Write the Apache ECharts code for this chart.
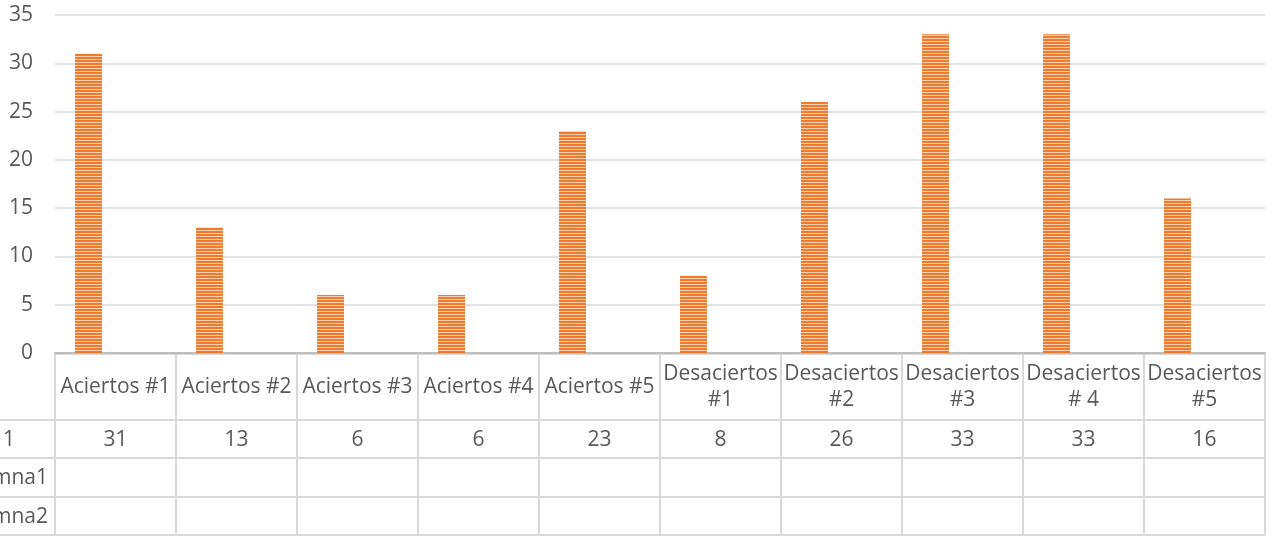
<!DOCTYPE html>
<html>
<head>
<meta charset="utf-8">
<script src="https://cdn.jsdelivr.net/npm/echarts@6/dist/echarts.min.js"></script>
<style>
html,body{margin:0;padding:0;background:#fff;}
#chart{width:1274px;height:536px;}
</style>
</head>
<body>
<div id="chart"></div>
<script>
// ---- data ----
var categories = ['Aciertos #1','Aciertos #2','Aciertos #3','Aciertos #4','Aciertos #5',
  'Desaciertos #1','Desaciertos #2','Desaciertos #3','Desaciertos # 4','Desaciertos #5'];
var seriesNames = ['1','Columna1','Columna2'];
var values1 = [31,13,6,6,23,8,26,33,33,16];
var valuesColumna1 = [null,null,null,null,null,null,null,null,null,null];
var valuesColumna2 = [null,null,null,null,null,null,null,null,null,null];
var yTicks = [0,5,10,15,20,25,30,35];

// ---- stripe pattern ----
var pc = document.createElement('canvas');
pc.width = 4; pc.height = 3;
var px = pc.getContext('2d');
px.fillStyle = '#f9d0b2'; px.fillRect(0,0,4,3);
px.fillStyle = '#ee7b2e'; px.fillRect(0,0,4,2);

var FONT = 'Open Sans';
var FS = 21;
var TXT = '#595959';
var LINE = '#d9d9d9';

var chart = echarts.init(document.getElementById('chart'), null, {renderer:'canvas'});

var gridLeft = 55, gridRight = 1265, gridTop = 15, gridBottom = 353;
var rowY = [353, 420, 458, 497, 535];

var option = {
  animation: false,
  backgroundColor: '#fff',
  grid: {left: gridLeft, top: gridTop, width: gridRight - gridLeft, height: gridBottom - gridTop, containLabel: false},
  xAxis: [{
    type: 'category', data: categories, position: 'bottom',
    axisLine: {show: true, lineStyle: {color: '#bfbfbf', width: 2}},
    axisTick: {show: false},
    splitLine: {show: false},
    axisLabel: {
      interval: 0, margin: 34, verticalAlign: 'middle', lineHeight: 26,
      color: TXT, fontFamily: FONT, fontSize: FS,
      formatter: function(v){ return v.replace('Desaciertos ', 'Desaciertos\n'); }
    }
  },{
    type: 'category', data: values1.map(function(v){return v == null ? '' : String(v);}), position: 'bottom',
    axisLine: {show: false}, axisTick: {show: false}, splitLine: {show: false},
    axisLabel: {interval: 0, margin: 87, verticalAlign: 'middle', color: TXT, fontFamily: FONT, fontSize: FS}
  }],
  yAxis: {
    type: 'value', min: 0, max: yTicks[yTicks.length-1], interval: 5,
    axisLine: {show: false}, axisTick: {show: false},
    splitLine: {show: true, lineStyle: {color: LINE, width: 1.5}},
    axisLabel: {margin: 22, color: TXT, fontFamily: FONT, fontSize: FS}
  },
  series: [
    {name: seriesNames[0], type: 'bar', data: values1, barWidth: 27, barGap: '0%',
      itemStyle: {color: {image: pc, repeat: 'repeat'}}},
    {name: seriesNames[1], type: 'bar', data: valuesColumna1, barWidth: 27, barGap: '0%',
      itemStyle: {color: '#a5a5a5'}},
    {name: seriesNames[2], type: 'bar', data: valuesColumna2, barWidth: 27, barGap: '0%',
      itemStyle: {color: '#ffc000'}}
  ]
};
chart.setOption(option);

// ---- data table lines & row headers (graphic) ----
var g = [];
var colW = (gridRight - gridLeft) / categories.length;
function hline(x1,x2,y){ g.push({type:'line', silent:true, shape:{x1:x1,y1:y,x2:x2,y2:y}, style:{stroke:LINE, lineWidth:2}}); }
function vline(x,y1,y2){ g.push({type:'line', silent:true, shape:{x1:x,y1:y1,x2:x,y2:y2}, style:{stroke:LINE, lineWidth:2}}); }
for (var i = 0; i <= categories.length; i++) vline(gridLeft + i*colW, rowY[0], rowY[4]);
hline(gridLeft, gridRight, rowY[0]+1);
for (var r = 1; r < rowY.length; r++) hline(0, gridRight, rowY[r]);
var rowCenters = [(rowY[1]+rowY[2])/2, (rowY[2]+rowY[3])/2, (rowY[3]+rowY[4])/2];
var tf = FS + 'px "' + FONT + '"';
g.push({type:'text', silent:true, x: 9, y: rowCenters[0] + 1, style:{text: seriesNames[0], align:'center', verticalAlign:'middle', fill:TXT, font:tf}});
g.push({type:'text', silent:true, x: 48, y: rowCenters[1] + 1, style:{text: seriesNames[1], align:'right', verticalAlign:'middle', fill:TXT, font:tf}});
g.push({type:'text', silent:true, x: 48, y: rowCenters[2] + 1, style:{text: seriesNames[2], align:'right', verticalAlign:'middle', fill:TXT, font:tf}});
chart.setOption({graphic: g});
</script>
</body>
</html>
